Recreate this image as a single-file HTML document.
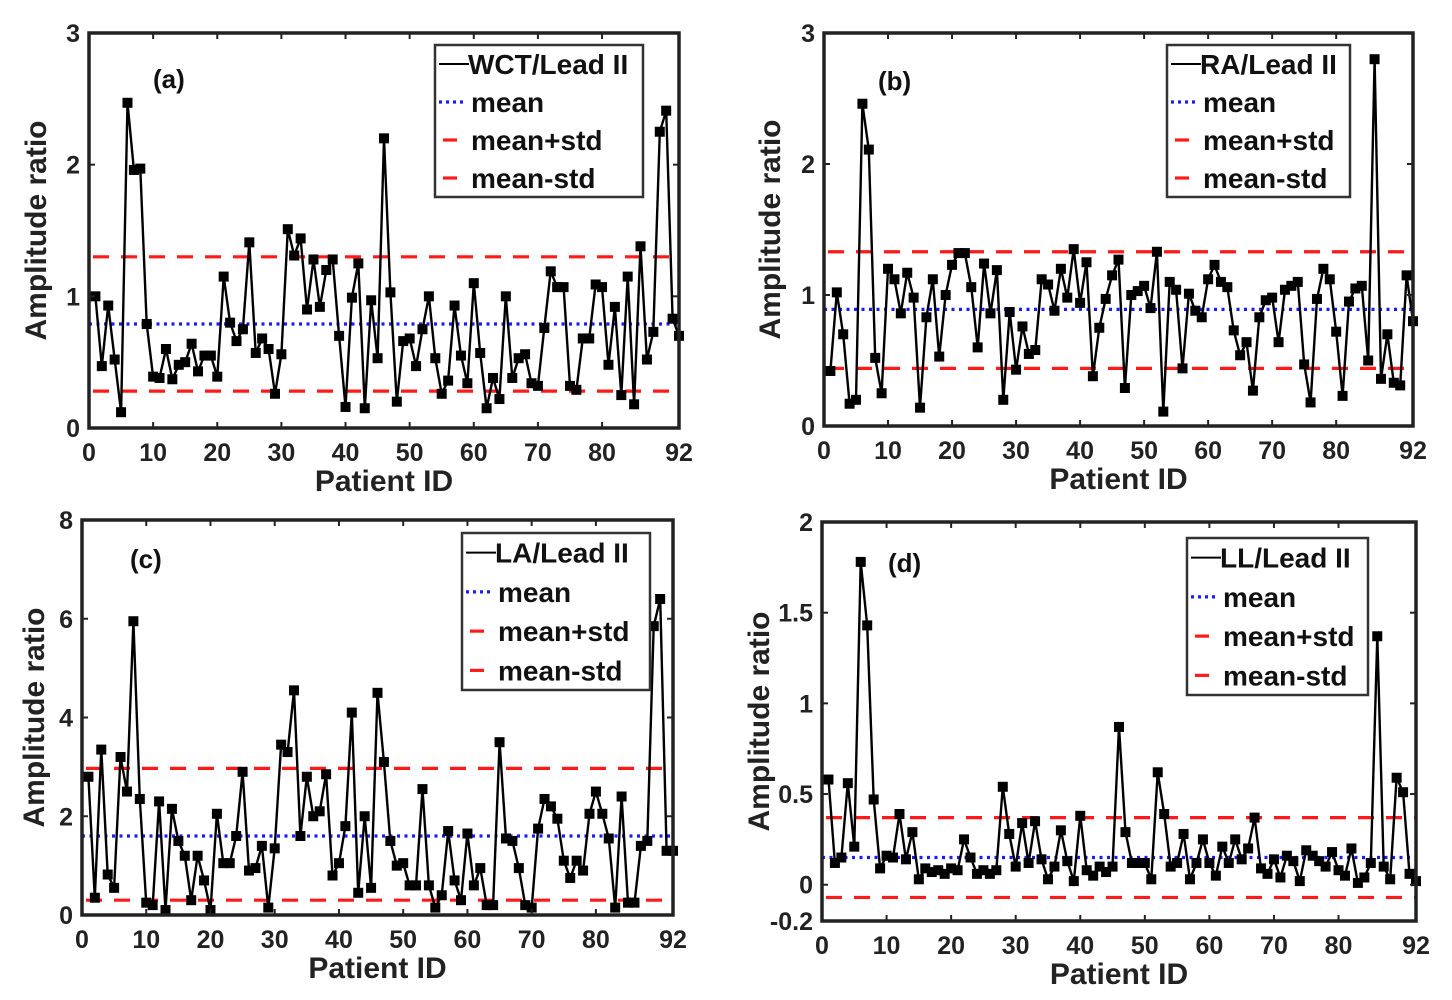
<!DOCTYPE html>
<html><head><meta charset="utf-8"><style>
html,body{margin:0;padding:0;background:#fff;}
svg{display:block;font-family:"Liberation Sans",Arial,sans-serif;font-weight:bold;}
</style></head><body>
<svg id="fig" width="1452" height="1000" viewBox="0 0 1452 1000"></svg>
<script>
const patientIds = Array.from({length:92},(_,i)=>i+1);
const seriesA = [1.0,0.47,0.93,0.52,0.12,2.47,1.96,1.97,0.79,0.39,0.38,0.6,0.37,0.48,0.5,0.64,0.43,0.55,0.55,0.39,1.15,0.8,0.66,0.75,1.41,0.57,0.68,0.6,0.26,0.56,1.51,1.31,1.44,0.9,1.28,0.92,1.2,1.28,0.7,0.16,0.99,1.25,0.15,0.97,0.53,2.2,1.03,0.2,0.66,0.68,0.47,0.75,1.0,0.53,0.26,0.36,0.93,0.55,0.34,1.1,0.57,0.15,0.38,0.22,1.0,0.38,0.53,0.56,0.34,0.32,0.76,1.19,1.07,1.07,0.32,0.29,0.68,0.68,1.09,1.07,0.48,0.92,0.25,1.15,0.18,1.38,0.52,0.73,2.25,2.41,0.83,0.7];
const statsA = [0.79,1.3,0.28];
const seriesB = [0.42,1.02,0.7,0.17,0.2,2.46,2.11,0.52,0.25,1.2,1.12,0.86,1.17,0.98,0.14,0.83,1.12,0.53,1.0,1.23,1.32,1.32,1.06,0.6,1.24,0.86,1.19,0.2,0.87,0.43,0.76,0.55,0.58,1.12,1.08,0.88,1.2,0.98,1.35,0.94,1.25,0.38,0.75,0.97,1.15,1.27,0.29,1.0,1.03,1.07,0.9,1.33,0.11,1.1,1.04,0.44,1.01,0.88,0.83,1.12,1.23,1.1,1.06,0.73,0.54,0.64,0.27,0.83,0.96,0.98,0.64,1.04,1.07,1.1,0.47,0.18,0.97,1.2,1.12,0.72,0.23,0.95,1.05,1.07,0.5,2.8,0.36,0.7,0.33,0.31,1.15,0.8];
const statsB = [0.89,1.33,0.44];
const seriesC = [2.8,0.35,3.35,0.82,0.55,3.2,2.5,5.95,2.35,0.25,0.2,2.3,0.1,2.15,1.5,1.2,0.3,1.2,0.7,0.1,2.05,1.05,1.05,1.6,2.9,0.9,0.95,1.4,0.15,1.35,3.45,3.3,4.55,1.6,2.8,2.0,2.1,2.85,0.8,1.05,1.8,4.1,0.45,2.0,0.55,4.5,3.1,1.5,1.0,1.05,0.6,0.6,2.55,0.6,0.15,0.4,1.7,0.7,0.3,1.65,0.6,0.95,0.2,0.2,3.5,1.55,1.5,0.95,0.2,0.15,1.75,2.35,2.2,1.95,1.1,0.75,1.1,0.9,2.05,2.5,2.05,1.55,0.15,2.4,0.25,0.25,1.4,1.5,5.85,6.4,1.3,1.3];
const statsC = [1.6,2.97,0.3];
const seriesD = [0.58,0.12,0.15,0.56,0.21,1.78,1.43,0.47,0.09,0.16,0.15,0.39,0.14,0.29,0.03,0.09,0.07,0.08,0.06,0.09,0.08,0.25,0.15,0.06,0.08,0.06,0.08,0.54,0.28,0.1,0.34,0.12,0.35,0.14,0.03,0.1,0.3,0.13,0.02,0.38,0.08,0.05,0.1,0.07,0.1,0.87,0.29,0.12,0.12,0.12,0.03,0.62,0.39,0.1,0.12,0.28,0.03,0.12,0.25,0.12,0.05,0.21,0.12,0.25,0.14,0.2,0.37,0.09,0.06,0.14,0.04,0.16,0.13,0.02,0.19,0.16,0.13,0.1,0.18,0.08,0.05,0.2,0.01,0.04,0.12,1.37,0.1,0.03,0.59,0.51,0.06,0.02];
const statsD = [0.15,0.37,-0.07];
const xTicks = [0,10,20,30,40,50,60,70,80,92];
const yTicksA = [0,1,2,3], yTicksB=[0,1,2,3], yTicksC=[0,2,4,6,8], yTicksD=[-0.2,0,0.5,1,1.5,2];
const yTickLabelsD = ['-0.2','0','0.5','1','1.5','2'];

const NS="http://www.w3.org/2000/svg";
const svg=document.getElementById('fig');
function mk(tag,attrs,parent,text){const e=document.createElementNS(NS,tag);for(const k in attrs)e.setAttribute(k,attrs[k]);if(text!==undefined)e.textContent=text;(parent||svg).appendChild(e);return e;}

const panels=[
 {id:'a',L:89,T:33,R:679,B:428,ymin:0,ymax:3,data:seriesA,stats:statsA,yt:yTicksA,ytl:null,name:'WCT/Lead II',lg:[435,45,643,197],lab:[153,88],yt_x:38},
 {id:'b',L:824,T:33,R:1413,B:426,ymin:0,ymax:3,data:seriesB,stats:statsB,yt:yTicksB,ytl:null,name:'RA/Lead II',lg:[1167,45,1350,197],lab:[878,90],yt_x:772},
 {id:'c',L:82,T:520,R:673,B:915,ymin:0,ymax:8,data:seriesC,stats:statsC,yt:yTicksC,ytl:null,name:'LA/Lead II',lg:[462,533,650,690],lab:[130,568],yt_x:36},
 {id:'d',L:822,T:522,R:1416,B:921,ymin:-0.2,ymax:2,data:seriesD,stats:statsD,yt:yTicksD,ytl:yTickLabelsD,name:'LL/Lead II',lg:[1187,538,1368,695],lab:[888,572],yt_x:761}
];

panels.forEach(p=>{
 const g=mk('g',{});
 
 
 const xs=v=>p.L+(v-0)/92*(p.R-p.L);
 const ys=v=>p.B-(v-p.ymin)/(p.ymax-p.ymin)*(p.B-p.T);
 const m=mk('line',{x1:p.L,x2:p.R,y1:ys(p.stats[0]),y2:ys(p.stats[0]),stroke:'#1a1aff','stroke-width':3.2,'stroke-dasharray':'3,4.5'},g);
 
 
 [1,2].forEach(i=>{const l=mk('line',{x1:p.L+4,x2:p.R,y1:ys(p.stats[i]),y2:ys(p.stats[i]),stroke:'#ff1a1a','stroke-width':3.2,'stroke-dasharray':'16,12'},g);
  
  });
 const pts=p.data.map((v,i)=>xs(patientIds[i]).toFixed(1)+','+ys(v).toFixed(1)).join(' ');
 const pl=mk('polyline',{points:pts,fill:'none',stroke:'#000','stroke-width':2.4},g);
 
 
 p.data.forEach((v,i)=>{const r=mk('rect',{x:xs(patientIds[i])-5,y:ys(v)-5,width:10,height:10,fill:'#000'},g);
  
  });
 const box=mk('rect',{x:p.L,y:p.T,width:p.R-p.L,height:p.B-p.T,fill:'none',stroke:'#222','stroke-width':3.5},g);
 
 
 xTicks.forEach(t=>{const x=xs(t);
  mk('line',{x1:x,x2:x,y1:p.B,y2:p.B-6,stroke:'#222','stroke-width':2},g);
  mk('line',{x1:x,x2:x,y1:p.T,y2:p.T+6,stroke:'#222','stroke-width':2},g);
  const tl=mk('text',{x:x,y:p.B+33,'text-anchor':'middle','font-size':25,fill:'#222'},g,String(t));
  
  });
 p.yt.forEach((t,i)=>{const y=ys(t);
  mk('line',{x1:p.L,x2:p.L+6,y1:y,y2:y,stroke:'#222','stroke-width':2},g);
  mk('line',{x1:p.R,x2:p.R-6,y1:y,y2:y,stroke:'#222','stroke-width':2},g);
  const tl=mk('text',{x:p.L-9,y:y+9,'text-anchor':'end','font-size':25,fill:'#222'},g,p.ytl?p.ytl[i]:String(t));
  
  });
 const xt=mk('text',{x:(p.L+p.R)/2,y:p.B+63,'text-anchor':'middle','font-size':30,fill:'#222'},g,'Patient ID');
 
 
 const cy=(p.T+p.B)/2;
 const yt=mk('text',{x:p.yt_x,y:cy,'text-anchor':'middle','font-size':30,fill:'#222',transform:`rotate(-90 ${p.yt_x} ${cy})`,'dominant-baseline':'middle'},g,'Amplitude ratio');
 
 
 const lab=mk('text',{x:p.lab[0],y:p.lab[1],'font-size':26,fill:'#111'},g,'('+p.id+')');
 
 
 const [lx0,ly0,lx1,ly1]=p.lg;
 const lg=mk('g',{},g);
 
 
 mk('rect',{x:lx0,y:ly0,width:lx1-lx0,height:ly1-ly0,fill:'#fff',stroke:'#333','stroke-width':2.5},lg);
 const labels=[p.name,'mean','mean+std','mean-std'];
 const step=(ly1-ly0)/4;
 labels.forEach((t,i)=>{const y=ly0+step*(i+0.5);
  if(i==0) mk('line',{x1:lx0+4,x2:lx0+34,y1:y,y2:y,stroke:'#000','stroke-width':2},lg);
  else if(i==1) mk('line',{x1:lx0+4,x2:lx0+32,y1:y,y2:y,stroke:'#1a1aff','stroke-width':3.2,'stroke-dasharray':'3,4'},lg);
  else mk('line',{x1:lx0+8,x2:lx0+22,y1:y,y2:y,stroke:'#ff1a1a','stroke-width':3.2},lg);
  const tx=mk('text',{x:lx0+(i==0?33:36),y:y+10,'font-size':28,fill:'#111',textLength:(i==0?null:null)},lg,t);
  tx.removeAttribute('textLength');
  
  });
});
</script>
</body></html>
